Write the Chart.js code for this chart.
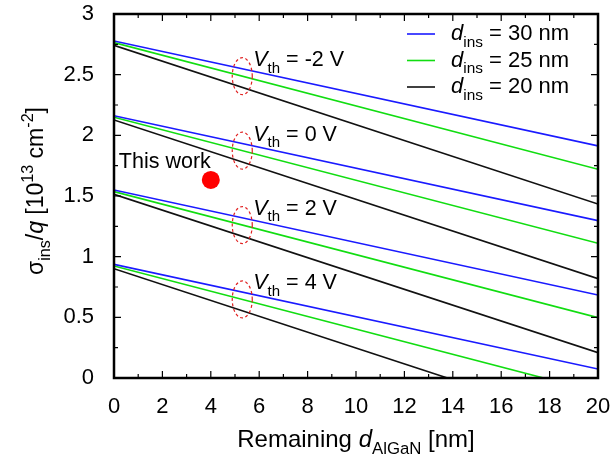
<!DOCTYPE html>
<html lang="en">
<head>
  <meta charset="UTF-8">
  <title>sigma_ins vs remaining d_AlGaN</title>
  <style>
    html, body { margin: 0; padding: 0; background: #fff; }
    #wrap { width: 614px; height: 459px; }
  </style>
  <script src="https://cdn.jsdelivr.net/npm/chart.js"></script>
</head>
<body>
<div id="wrap"><canvas id="chart" width="614" height="459"></canvas></div>

<script>
  // x positions of the line ends (remaining AlGaN, nm)
  const xEnds = [0, 20];
  // Vth groups, top to bottom
  const vthValues = ['-2', '0', '2', '4'];
  // sigma_ins/q [1e13 cm^-2] at x = 0 and x = 20, one pair per Vth group
  const dins30 = [[2.778, 1.913], [2.162, 1.297], [1.550, 0.684], [0.937, 0.074]];
  const dins25 = [[2.764, 1.720], [2.149, 1.110], [1.536, 0.497], [0.923, -0.117]];
  const dins20 = [[2.742, 1.434], [2.127, 0.819], [1.514, 0.209], [0.901, -0.407]];
  const seriesNames = ['30', '25', '20'];
  const thisWork = [{ x: 4, y: 1.632 }];
  const ellipseX = 5.3;

  const FONT = 'Liberation Sans, Arial, sans-serif';
  const colors = ['#1a1aff', '#11dd11', '#111111'];
  const allSeries = [dins30, dins25, dins20];

  const datasets = [];
  allSeries.forEach((s, si) => {
    s.forEach((pair, g) => {
      datasets.push({
        label: 'd' + seriesNames[si] + '_' + g,
        data: xEnds.map((x, i) => ({ x: x, y: pair[i] })),
        borderColor: colors[si],
        borderWidth: 1.6,
        pointRadius: 0,
        fill: false,
        tension: 0
      });
    });
  });
  datasets.push({
    label: 'This work',
    data: thisWork,
    showLine: false,
    pointRadius: 9,
    pointBackgroundColor: '#ff0000',
    pointBorderWidth: 0
  });

  // draw text made of pieces (italic / sub / sup)
  function richWidth(ctx, parts, size) {
    let w = 0;
    parts.forEach(p => {
      const fs = (p.sub || p.sup) ? size * 0.7 : size;
      ctx.font = (p.it ? 'italic ' : '') + fs + 'px ' + FONT;
      w += ctx.measureText(p.t).width;
    });
    return w;
  }
  function drawRich(ctx, x, y, parts, size, align) {
    let cx = x;
    if (align === 'center') cx = x - richWidth(ctx, parts, size) / 2;
    if (align === 'right') cx = x - richWidth(ctx, parts, size);
    ctx.textBaseline = 'alphabetic';
    ctx.textAlign = 'left';
    parts.forEach(p => {
      const fs = (p.sub || p.sup) ? size * 0.7 : size;
      ctx.font = (p.it ? 'italic ' : '') + fs + 'px ' + FONT;
      let dy = 0;
      if (p.sub) dy = size * 0.3;
      if (p.sup) dy = -size * 0.42;
      ctx.fillText(p.t, cx, y + dy);
      cx += ctx.measureText(p.t).width;
    });
  }

  const decor = {
    id: 'decor',
    afterDraw(chart) {
      const ctx = chart.ctx;
      const a = chart.chartArea;
      const xs = chart.scales.x, ys = chart.scales.y;
      ctx.save();
      ctx.fillStyle = '#000';
      ctx.strokeStyle = '#000';

      // frame
      ctx.lineWidth = 2.5;
      ctx.strokeRect(a.left, a.top, a.right - a.left, a.bottom - a.top);

      // inward ticks on all sides
      ctx.lineWidth = 1.2;
      ctx.beginPath();
      for (let v = 0; v <= 20; v += 1) {
        const px = xs.getPixelForValue(v);
        const len = v % 2 === 0 ? 7 : 4;
        ctx.moveTo(px, a.bottom); ctx.lineTo(px, a.bottom - len);
        ctx.moveTo(px, a.top); ctx.lineTo(px, a.top + len);
      }
      for (let k = 0; k <= 12; k++) {
        const py = ys.getPixelForValue(k * 0.25);
        const len = k % 2 === 0 ? 7 : 4;
        ctx.moveTo(a.left, py); ctx.lineTo(a.left + len, py);
        ctx.moveTo(a.right, py); ctx.lineTo(a.right - len, py);
      }
      ctx.stroke();

      // dashed ellipses + Vth labels
      const ex = xs.getPixelForValue(ellipseX);
      vthValues.forEach((v, g) => {
        const p = dins25[g];
        const yv = p[0] + (p[1] - p[0]) * (ellipseX - xEnds[0]) / (xEnds[1] - xEnds[0]);
        const ey = ys.getPixelForValue(yv);
        ctx.save();
        ctx.strokeStyle = '#e02020';
        ctx.lineWidth = 1.2;
        ctx.setLineDash([3, 2.5]);
        ctx.beginPath();
        ctx.ellipse(ex, ey, 10, 18.5, 0, 0, Math.PI * 2);
        ctx.stroke();
        ctx.restore();
        ctx.fillStyle = '#000';
        drawRich(ctx, ex + 11, ey - 10, [
          { t: 'V', it: true }, { t: 'th', sub: true }, { t: ' = ' + v + ' V' }
        ], 21.5, 'left');
      });

      // "This work" label
      const tw = thisWork[0];
      ctx.font = '21.5px ' + FONT;
      ctx.textAlign = 'right';
      ctx.textBaseline = 'alphabetic';
      ctx.fillText('This work', xs.getPixelForValue(tw.x), ys.getPixelForValue(tw.y) - 12);

      // legend
      const lx = 407, ly = 34;
      seriesNames.forEach((n, i) => {
        const y = ly + i * 26.5;
        ctx.strokeStyle = colors[i];
        ctx.lineWidth = 1.6;
        ctx.beginPath();
        ctx.moveTo(lx, y); ctx.lineTo(lx + 28, y);
        ctx.stroke();
        ctx.fillStyle = '#000';
        drawRich(ctx, lx + 44, y + 6, [
          { t: 'd', it: true }, { t: 'ins', sub: true }, { t: ' = ' + n + ' nm' }
        ], 22, 'left');
      });

      // x title
      drawRich(ctx, (a.left + a.right) / 2, 447, [
        { t: 'Remaining ' }, { t: 'd', it: true }, { t: 'AlGaN', sub: true }, { t: ' [nm]' }
      ], 24, 'center');

      // y title
      ctx.translate(43, 191);
      ctx.rotate(-Math.PI / 2);
      drawRich(ctx, 0, 0, [
        { t: 'σ' }, { t: 'ins', sub: true }, { t: '/' }, { t: 'q', it: true },
        { t: ' [10' }, { t: '13', sup: true }, { t: ' cm' }, { t: '-2', sup: true }, { t: ']' }
      ], 23, 'center');
      ctx.restore();
    }
  };

  new Chart(document.getElementById('chart'), {
    type: 'line',
    data: { datasets: datasets },
    options: {
      responsive: false,
      animation: false,
      layout: { autoPadding: false, padding: { top: 14, right: 16, left: 0, bottom: 0 } },
      plugins: { legend: { display: false }, tooltip: { enabled: false } },
      scales: {
        x: {
          type: 'linear', min: 0, max: 20,
          ticks: { stepSize: 2, color: '#000', font: { size: 22, family: FONT }, padding: 8, maxRotation: 0 },
          grid: { display: false },
          border: { display: false },
          afterFit(s) { s.height = 81; s.paddingLeft = 0; s.paddingRight = 0; }
        },
        y: {
          min: 0, max: 3,
          ticks: { stepSize: 0.5, color: '#000', font: { size: 22, family: FONT }, padding: 12,
                   callback: v => String(v) },
          grid: { display: false },
          border: { display: false },
          afterFit(s) { s.width = 114; s.paddingTop = 0; s.paddingBottom = 0; }
        }
      }
    },
    plugins: [decor]
  });
</script>
</body>
</html>
